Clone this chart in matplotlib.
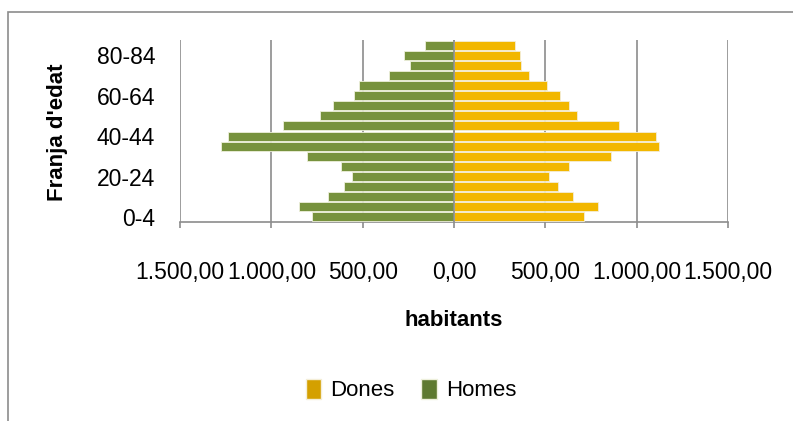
import matplotlib.pyplot as plt
from matplotlib.patches import Rectangle, Patch
from matplotlib.ticker import FuncFormatter

plt.rcParams['font.family'] = ['Liberation Sans', 'DejaVu Sans']

# franges d'edat, de baix a dalt
franges = ['0-4', '5-9', '10-14', '15-19', '20-24', '25-29', '30-34', '35-39',
           '40-44', '45-49', '50-54', '55-59', '60-64', '65-69', '70-74',
           '75-79', '80-84', '85+']
homes = [778, 848, 690, 603, 559, 619, 806, 1273, 1236, 938, 734, 663,
         549, 522, 355, 242, 275, 161]
dones = [709, 789, 649, 569, 518, 631, 860, 1124, 1105, 904, 675, 631,
         578, 509, 413, 369, 360, 333]
xticks = [-1500, -1000, -500, 0, 500, 1000, 1500]

groc = '#F2B700'
verd = '#77923D'

fig = plt.figure(figsize=(7.93, 4.21), dpi=100)
ax = fig.add_axes([180 / 793, 1 - 222 / 421, 548 / 793, 182 / 421])

y = range(len(franges))
ax.barh(y, dones, height=0.9, color=groc, edgecolor='#f4eed8', linewidth=0.6,
        zorder=3)
ax.barh(y, [-h for h in homes], height=0.9, color=verd, edgecolor='#eef0dc',
        linewidth=0.6, zorder=3)

ax.set_xlim(-1500, 1500)
ax.set_ylim(-0.5, len(franges) - 0.5)


def fmt(v, pos):
    s = f'{abs(v):,.2f}'
    return s.replace(',', 'X').replace('.', ',').replace('X', '.')


ax.set_xticks(xticks)
ax.xaxis.set_major_formatter(FuncFormatter(fmt))
ax.set_yticks(list(y)[::4])
ax.set_yticklabels(franges[::4])

ax.grid(axis='x', color='#8c8c8c', linewidth=1.2, zorder=0)
ax.axvline(0, color='#8c8c8c', linewidth=1.2, zorder=4)
for s in ['top', 'right', 'left']:
    ax.spines[s].set_visible(False)
ax.spines['bottom'].set_color('#8c8c8c')
ax.spines['bottom'].set_linewidth(1.2)
ax.tick_params(axis='x', length=4, width=1.2, color='#8c8c8c', pad=24,
               labelsize=16.5)
ax.tick_params(axis='y', length=0, pad=18, labelsize=16.5)

fig.text(58 / 793, 1 - 132 / 421, "Franja d'edat", rotation=90, fontsize=16,
         fontweight='bold', ha='center', va='center')
fig.text(454 / 793, 1 - 320 / 421, 'habitants', fontsize=16,
         fontweight='bold', ha='center', va='center')

# llegenda amb els quadres una mica més foscos
handles = [Patch(facecolor='#D4A000', edgecolor='#f4eed8', label='Dones'),
           Patch(facecolor='#5E7A30', edgecolor='#eef0dc', label='Homes')]
fig.legend(handles=handles, loc='center',
           bbox_to_anchor=(411 / 793, 1 - 390 / 421),
           ncol=2, frameon=False, fontsize=16, handlelength=0.7,
           handleheight=1.0, handletextpad=0.4, columnspacing=1.2)

# marc del gràfic
fig.patches.append(Rectangle((8 / 793, -0.1), 1.1, 1 - 12 / 421 + 0.1,
                             transform=fig.transFigure, fill=False,
                             edgecolor='#8c8c8c', linewidth=1.2))

fig.savefig('out.png', dpi=100)
